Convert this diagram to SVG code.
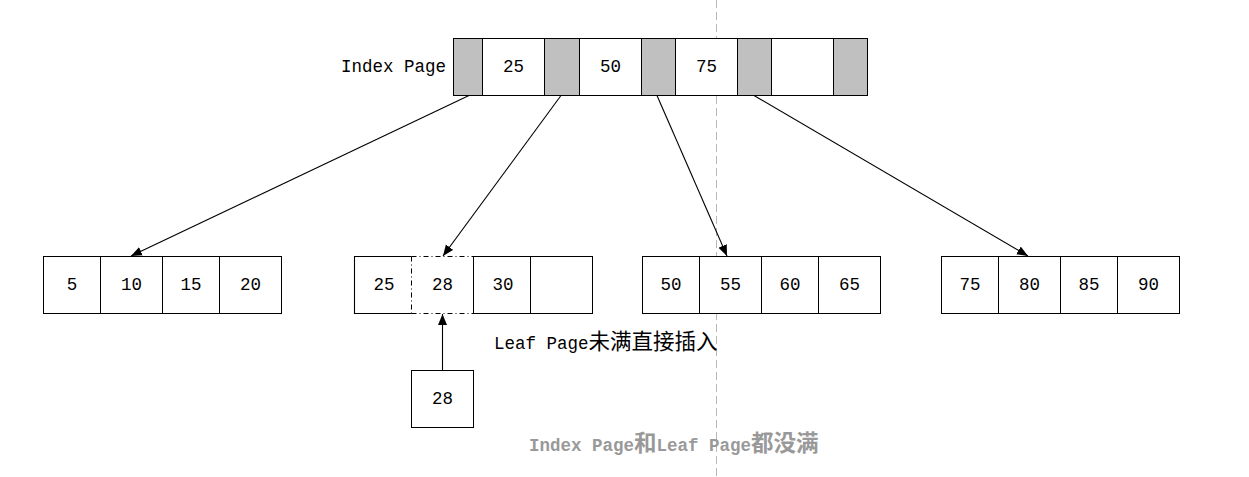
<svg xmlns="http://www.w3.org/2000/svg" width="1249" height="477" viewBox="0 0 1249 477">
<style>
.c{fill:#fff;stroke:#000;stroke-width:1}
.g{fill:#c0c0c0;stroke:#000;stroke-width:1}
.t{font-family:"Liberation Mono","Noto Sans CJK SC",monospace;font-size:17.5px;fill:#000;text-anchor:middle}
.l{font-family:"Liberation Mono","Noto Sans CJK SC",monospace;font-size:17.5px;fill:#000}
.cj{font-family:"Noto Sans CJK SC",sans-serif;font-size:21.5px}
.d{fill:none;stroke:#000;stroke-width:1;stroke-dasharray:5,3,1,3}
.e{stroke:#000;stroke-width:1.1;fill:none}
</style>
<defs>
<marker id="ah" markerUnits="userSpaceOnUse" markerWidth="12" markerHeight="10" refX="11" refY="4.5" orient="auto">
<path d="M0,0 L11,4.5 L0,9 z" fill="#000"/>
</marker>
</defs>
<line x1="716.5" y1="0" x2="716.5" y2="477" stroke="#b8b8b8" stroke-width="1" stroke-dasharray="8,4"/>
<g id="index-page">
<text class="l" x="341" y="72">Index Page</text>
<rect class="g" x="453.5" y="38.5" width="29" height="57"/>
<rect class="c" x="482.5" y="38.5" width="62" height="57"/>
<rect class="g" x="544.5" y="38.5" width="35" height="57"/>
<rect class="c" x="579.5" y="38.5" width="62" height="57"/>
<rect class="g" x="641.5" y="38.5" width="34" height="57"/>
<rect class="c" x="675.5" y="38.5" width="62" height="57"/>
<rect class="g" x="737.5" y="38.5" width="34" height="57"/>
<rect class="c" x="771.5" y="38.5" width="62" height="57"/>
<rect class="g" x="833.5" y="38.5" width="34" height="57"/>
<text class="t" x="513.5" y="72">25</text>
<text class="t" x="610.5" y="72">50</text>
<text class="t" x="706.5" y="72">75</text>
</g>
<g id="leaf1">
<rect class="c" x="43.5" y="256.5" width="57" height="57"/>
<rect class="c" x="100.5" y="256.5" width="62" height="57"/>
<rect class="c" x="162.5" y="256.5" width="57" height="57"/>
<rect class="c" x="219.5" y="256.5" width="62" height="57"/>
<text class="t" x="72" y="290">5</text>
<text class="t" x="131.5" y="290">10</text>
<text class="t" x="191" y="290">15</text>
<text class="t" x="250.5" y="290">20</text>
</g>
<g id="leaf2">
<path class="e" d="M411.5,256.5 H354.5 V313.5 H411.5"/>
<path class="d" d="M411.5,256.5 V313.5 M411.5,256.5 H473.5 M411.5,313.5 H473.5"/>
<rect class="c" x="473.5" y="256.5" width="57" height="57"/>
<rect class="c" x="530.5" y="256.5" width="62" height="57"/>
<text class="t" x="384" y="290">25</text>
<text class="t" x="442.5" y="290">28</text>
<text class="t" x="503" y="290">30</text>
</g>
<g id="leaf3">
<rect class="c" x="642.5" y="256.5" width="57" height="57"/>
<rect class="c" x="699.5" y="256.5" width="62" height="57"/>
<rect class="c" x="761.5" y="256.5" width="57" height="57"/>
<rect class="c" x="818.5" y="256.5" width="62" height="57"/>
<text class="t" x="671" y="290">50</text>
<text class="t" x="730.5" y="290">55</text>
<text class="t" x="790" y="290">60</text>
<text class="t" x="849.5" y="290">65</text>
</g>
<g id="leaf4">
<rect class="c" x="941.5" y="256.5" width="57" height="57"/>
<rect class="c" x="998.5" y="256.5" width="62" height="57"/>
<rect class="c" x="1060.5" y="256.5" width="57" height="57"/>
<rect class="c" x="1117.5" y="256.5" width="62" height="57"/>
<text class="t" x="970" y="290">75</text>
<text class="t" x="1029.5" y="290">80</text>
<text class="t" x="1089" y="290">85</text>
<text class="t" x="1148.5" y="290">90</text>
</g>
<g id="new-key">
<rect class="c" x="411.5" y="370.5" width="62" height="57"/>
<text class="t" x="442.5" y="404">28</text>
</g>
<g id="connectors">
<line class="e" x1="469" y1="95.5" x2="131" y2="256" marker-end="url(#ah)"/>
<line class="e" x1="561" y1="95.5" x2="443" y2="256" marker-end="url(#ah)"/>
<line class="e" x1="657" y1="95.5" x2="727" y2="256" marker-end="url(#ah)"/>
<line class="e" x1="754" y1="95.5" x2="1028" y2="256" marker-end="url(#ah)"/>
<line class="e" x1="442.5" y1="370" x2="442.5" y2="314" marker-end="url(#ah)"/>
</g>
<g id="labels">
<text class="l" x="494" y="349">Leaf Page<tspan class="cj">未满直接插入</tspan></text>
<text class="l" x="529" y="451" style="fill:#999;font-weight:bold">Index Page<tspan class="cj" style="font-weight:bold;font-size:22.5px">和</tspan>Leaf Page<tspan class="cj" style="font-weight:bold;font-size:22.5px">都没满</tspan></text>
</g>
</svg>
